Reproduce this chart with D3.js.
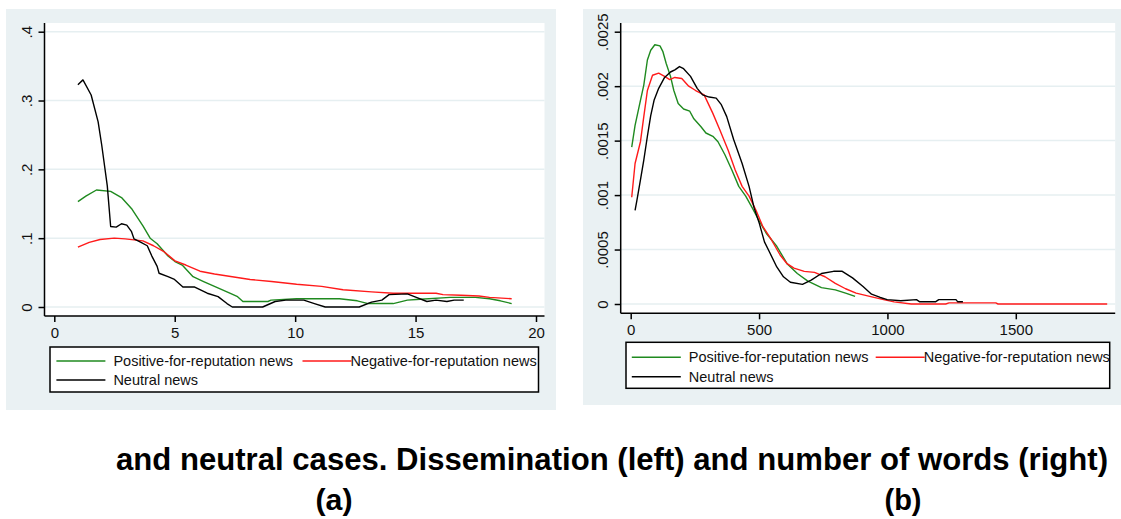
<!DOCTYPE html>
<html>
<head>
<meta charset="utf-8">
<script src="https://cdn.jsdelivr.net/npm/d3@7"></script>
<style>
  body { margin: 0; background: #fff; }
  svg { display: block; }
  text { font-family: "Liberation Sans", Arial, sans-serif; }
</style>
</head>
<body>
<svg id="paper" width="1121" height="519"></svg>
<script>
// ---- data ----
let seriesNames = ["Positive-for-reputation news", "Negative-for-reputation news", "Neutral news"];
let seriesColors = ["#1f8a1f", "#ff1a1a", "#000000"];

// left panel: dissemination
let leftTicksX = [0, 5, 10, 15, 20];
let leftTicksY = [0, 0.1, 0.2, 0.3, 0.4];
let leftTickLabelsY = ["0", ".1", ".2", ".3", ".4"];
let leftPositive = [[0.98,0.153],[1.31,0.161],[1.75,0.170],[2.34,0.168],[2.79,0.159],[3.23,0.142],[3.68,0.118],[3.98,0.100],[4.27,0.092],[4.72,0.074],[5.01,0.066],[5.31,0.061],[5.76,0.044],[6.2,0.037],[6.65,0.030],[7.24,0.021],[7.61,0.015],[7.83,0.008],[8.87,0.008],[9.0,0.010],[10.06,0.012],[11.84,0.012],[12.58,0.009],[13.03,0.005],[14.07,0.005],[14.66,0.010],[15.03,0.011],[16.44,0.014],[17.48,0.014],[18.07,0.012],[18.52,0.009],[18.99,0.005]];
let leftNegative = [[0.98,0.087],[1.45,0.094],[1.9,0.098],[2.49,0.100],[2.94,0.099],[3.68,0.096],[4.12,0.089],[4.57,0.080],[5.01,0.067],[5.46,0.061],[6.05,0.052],[6.65,0.048],[7.39,0.044],[8.13,0.040],[9.02,0.037],[10.06,0.033],[11.1,0.030],[11.99,0.025],[13.17,0.022],[14.07,0.020],[15.85,0.020],[16.14,0.018],[16.88,0.017],[17.63,0.016],[18.07,0.014],[18.99,0.012]];
let leftNeutral = [[0.98,0.323],[1.19,0.330],[1.53,0.308],[1.82,0.269],[1.97,0.235],[2.2,0.176],[2.34,0.117],[2.57,0.116],[2.79,0.121],[3.01,0.119],[3.2,0.110],[3.31,0.099],[3.6,0.094],[3.86,0.089],[4.05,0.074],[4.27,0.059],[4.35,0.049],[4.72,0.044],[4.99,0.040],[5.34,0.029],[5.83,0.029],[6.35,0.020],[6.8,0.015],[7.17,0.005],[7.39,0],[8.65,0],[9.17,0.008],[9.61,0.010],[10.36,0.010],[10.8,0.005],[11.25,0],[12.66,0],[13.17,0.007],[13.6,0.010],[13.9,0.018],[14.66,0.019],[15.03,0.014],[15.47,0.008],[15.85,0.010],[16.3,0.008],[16.6,0.010],[17.0,0.010]];

// right panel: number of words
let rightTicksX = [0, 500, 1000, 1500];
let rightTicksY = [0, 0.0005, 0.001, 0.0015, 0.002, 0.0025];
let rightTickLabelsY = ["0", ".0005", ".001", ".0015", ".002", ".0025"];
let rightPositive = [[4,0.00144],[17,0.00164],[38,0.00187],[51,0.00201],[65,0.00224],[78,0.00233],[94,0.00238],[114,0.00237],[125,0.00232],[138,0.00221],[155,0.00209],[168,0.00196],[185,0.00184],[206,0.00179],[230,0.00177],[246,0.00170],[273,0.00163],[293,0.00157],[320,0.00154],[340,0.00149],[367,0.00137],[394,0.00123],[421,0.00108],[448,0.00099],[474,0.00088],[501,0.00076],[528,0.00065],[569,0.00053],[609,0.00037],[649,0.00028],[690,0.00021],[743,0.00015],[797,0.00013],[837,0.0001],[874,0.00007]];
let rightNegative = [[4,0.00098],[17,0.00129],[38,0.00149],[51,0.00172],[65,0.00196],[85,0.0021],[109,0.00212],[132,0.00209],[152,0.00206],[172,0.00208],[199,0.00207],[226,0.0020],[253,0.00196],[286,0.00192],[320,0.00175],[347,0.0016],[380,0.00141],[407,0.00123],[434,0.00108],[461,0.00099],[488,0.00086],[515,0.00071],[548,0.00059],[582,0.00045],[609,0.00037],[636,0.00033],[676,0.0003],[716,0.00029],[757,0.00025],[797,0.00019],[837,0.00014],[878,0.0001],[931,0.00007],[985,0.00004],[1026,0.00002],[1093,0],[1227,0],[1240,0.00001],[1422,0.00001],[1431,0],[1856,0]];
let rightNeutral = [[17,0.00086],[24,0.00095],[38,0.00114],[51,0.00132],[65,0.00154],[78,0.00173],[91,0.00187],[109,0.00198],[132,0.00208],[155,0.00213],[172,0.00215],[190,0.00218],[206,0.00216],[233,0.00209],[259,0.00198],[280,0.00192],[306,0.0019],[333,0.00189],[353,0.00183],[374,0.00172],[401,0.00151],[434,0.00129],[461,0.00108],[481,0.00088],[501,0.00074],[521,0.00057],[542,0.00047],[569,0.00034],[595,0.00025],[622,0.0002],[669,0.00018],[703,0.00022],[743,0.00028],[790,0.0003],[824,0.0003],[864,0.00024],[905,0.00016],[938,0.00009],[972,0.00006],[999,0.00004],[1052,0.00003],[1113,0.00004],[1126,0.00002],[1187,0.00002],[1200,0.00004],[1267,0.00004],[1274,0.00002],[1294,0.00002]];

let captionText = "and neutral cases. Dissemination (left) and number of words (right)";

let svg = d3.select("#paper");

function drawPanel(cfg) {
    let g = svg.append("g");

    // outer panel and plot region
    g.append("rect").attr("x", cfg.bg[0]).attr("y", cfg.bg[1])
        .attr("width", cfg.bg[2]).attr("height", cfg.bg[3]).attr("fill", "#eaf1f3");
    g.append("rect").attr("x", cfg.plot[0]).attr("y", cfg.plot[1])
        .attr("width", cfg.plot[2]).attr("height", cfg.plot[3]).attr("fill", "#fff");

    let x = d3.scaleLinear().domain(cfg.xDomain).range(cfg.xRange);
    let y = d3.scaleLinear().domain(cfg.yDomain).range(cfg.yRange);

    // grid lines
    g.selectAll(".grid").data(cfg.yTicks).enter().append("line")
        .attr("x1", cfg.plot[0]).attr("x2", cfg.plot[0] + cfg.plot[2])
        .attr("y1", d => y(d)).attr("y2", d => y(d))
        .style("stroke", "#e6eff1").style("stroke-width", 1.5);

    // y axis
    let yAxis = d3.axisLeft(y).tickValues(cfg.yTicks)
        .tickFormat((d, i) => cfg.yLabels[i]).tickSize(6).tickPadding(6);
    let ya = g.append("g").attr("transform", "translate(" + cfg.plot[0] + ",0)").call(yAxis);
    ya.select(".domain").attr("d", "M0," + cfg.plot[1] + "V" + cfg.axisY);
    ya.selectAll(".tick text")
        .attr("transform", "rotate(-90)")
        .attr("x", 0).attr("y", -13).attr("dy", "0")
        .attr("text-anchor", "middle");

    // x axis
    let xAxis = d3.axisBottom(x).tickValues(cfg.xTicks).tickFormat(d3.format("d"))
        .tickSize(6).tickPadding(5);
    let xa = g.append("g").attr("transform", "translate(0," + cfg.axisY + ")").call(xAxis);
    xa.select(".domain").attr("d", "M" + cfg.plot[0] + ",0H" + (cfg.plot[0] + cfg.plot[2]));

    [ya, xa].forEach(a => {
        a.selectAll("path, line").style("stroke", "#000").style("stroke-width", 1.5);
        a.selectAll("text").style("font-size", "15px").style("fill", "#111")
            .style("font-family", "'Liberation Sans', Arial, sans-serif");
    });

    // curves
    let line = d3.line().x(d => x(d[0])).y(d => y(d[1]));
    cfg.series.forEach((s, i) => {
        g.append("path").datum(s).attr("d", line)
            .attr("fill", "none").attr("stroke", seriesColors[i])
            .attr("stroke-width", 1.4).attr("stroke-linejoin", "round");
    });

    // legend
    let L = cfg.legend;
    g.append("rect").attr("x", L.x).attr("y", L.y).attr("width", L.w).attr("height", L.h)
        .attr("fill", "#fff").attr("stroke", "#000").attr("stroke-width", 1.5);
    let items = [
        {x: L.col1, y: L.row1},
        {x: L.col2, y: L.row1},
        {x: L.col1, y: L.row2}
    ];
    items.forEach((it, i) => {
        g.append("line").attr("x1", it.x).attr("x2", it.x + 49)
            .attr("y1", it.y).attr("y2", it.y)
            .attr("stroke", seriesColors[i]).attr("stroke-width", 1.4);
        g.append("text").attr("x", it.x + (i === 1 ? 48 : 57)).attr("y", it.y + 5)
            .style("font-size", "14.5px").style("fill", "#111")
            .text(seriesNames[i]);
    });
}

drawPanel({
    bg: [6, 9, 550, 401],
    plot: [44.5, 23, 500, 293],
    axisY: 316,
    xDomain: [0, 20], xRange: [54.3, 536],
    yDomain: [0, 0.4], yRange: [307, 31.7],
    xTicks: leftTicksX, yTicks: leftTicksY, yLabels: leftTickLabelsY,
    series: [leftPositive, leftNegative, leftNeutral],
    legend: {x: 50, y: 347, w: 488.5, h: 45, row1: 361, row2: 380, col1: 56.4, col2: 302.5}
});

drawPanel({
    bg: [583, 9, 538, 396],
    plot: [620.7, 23, 494.5, 290.3],
    axisY: 313.3,
    xDomain: [0, 1500], xRange: [630.7, 1015.8],
    yDomain: [0, 0.0025], yRange: [304, 31.7],
    xTicks: rightTicksX, yTicks: rightTicksY, yLabels: rightTickLabelsY,
    series: [rightPositive, rightNegative, rightNeutral],
    legend: {x: 626, y: 342.3, w: 483.7, h: 46, row1: 357.3, row2: 376.7, col1: 631.8, col2: 875.7}
});

// caption and sub-labels
svg.append("text").attr("x", 116).attr("y", 470)
    .attr("textLength", 992).attr("lengthAdjust", "spacingAndGlyphs")
    .style("font-size", "31px").style("font-weight", "bold").style("fill", "#000")
    .text(captionText);
svg.append("text").attr("x", 334).attr("y", 510).attr("text-anchor", "middle")
    .attr("textLength", 37).attr("lengthAdjust", "spacingAndGlyphs")
    .style("font-size", "29px").style("font-weight", "bold").text("(a)");
svg.append("text").attr("x", 903).attr("y", 510).attr("text-anchor", "middle")
    .attr("textLength", 37).attr("lengthAdjust", "spacingAndGlyphs")
    .style("font-size", "29px").style("font-weight", "bold").text("(b)");
</script>
</body>
</html>
